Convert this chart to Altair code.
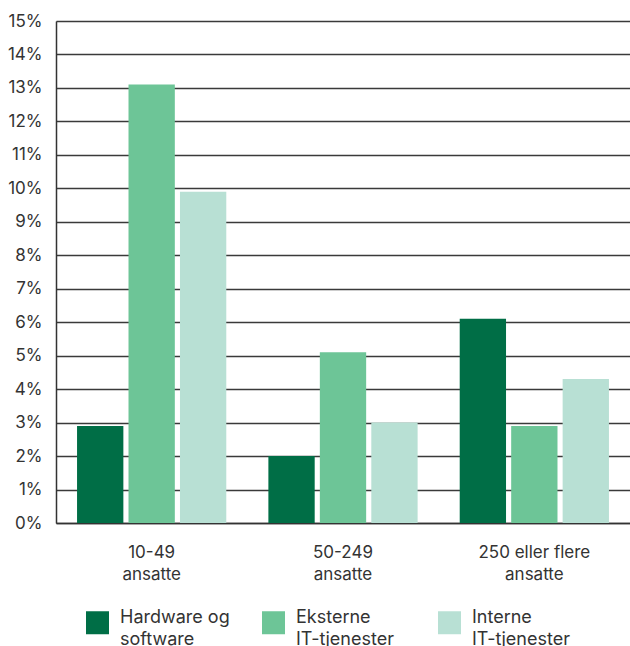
import altair as alt
import pandas as pd

groups = ["10-49|ansatte", "50-249|ansatte", "250 eller flere|ansatte"]
series = ["Hardware og|software", "Eksterne|IT-tjenester", "Interne|IT-tjenester"]
colors = ["#006E46", "#6DC597", "#B8E0D4"]
values = {
    "Hardware og|software": [2.9, 2.0, 6.1],
    "Eksterne|IT-tjenester": [13.1, 5.1, 2.9],
    "Interne|IT-tjenester": [9.9, 3.0, 4.3],
}

rows = []
for s in series:
    for g, v in zip(groups, values[s]):
        rows.append({"group": g, "series": s, "value": v / 100})
df = pd.DataFrame(rows)

FONT = "Inter"
TXT = "#333333"

chart = alt.Chart(df).mark_bar().encode(
    x=alt.X("group:N", sort=groups, title=None,
            scale=alt.Scale(paddingInner=0.22, paddingOuter=0.11),
            axis=alt.Axis(labelAngle=0, ticks=False, labelPadding=21,
                          labelExpr="split(datum.label, '|')",
                          labelFontSize=17, labelColor=TXT, labelFont=FONT,
                          labelLineHeight=22, domainColor="#333333", domainWidth=1.5,
                          grid=False)),
    xOffset=alt.XOffset("series:N", sort=series, scale=alt.Scale(paddingInner=0.1)),
    y=alt.Y("value:Q", title=None,
            scale=alt.Scale(domain=[0, 0.15], nice=False),
            axis=alt.Axis(format=".0%", values=[i / 100 for i in range(16)],
                          ticks=False, labelPadding=14, labelFontSize=17,
                          labelColor=TXT, labelFont=FONT,
                          gridColor="#3a3a3a", gridWidth=1.5,
                          domainColor="#333333", domainWidth=1.5)),
    color=alt.Color("series:N", sort=series,
                    scale=alt.Scale(domain=series, range=colors),
                    legend=alt.Legend(title=None, orient="none", legendX=30, legendY=590,
                                      direction="horizontal", columns=3, gridAlign="all",
                                      symbolType="square", symbolSize=529,
                                      symbolStrokeWidth=0, symbolOpacity=1,
                                      labelExpr="split(datum.label, '|')",
                                      labelFontSize=18, labelFont=FONT, labelColor=TXT,
                                      labelOffset=11, columnPadding=32,
                                      labelBaseline="alphabetic")),
).properties(
    width=574, height=502,
    padding={"left": 56, "top": 21, "right": 0, "bottom": 123},
    autosize=alt.AutoSizeParams(type="none"),
).configure_view(stroke=None).configure(
    background="white",
    style={"guide-label": {"lineHeight": 22}},
)

chart.save("out.html", embed_options={"renderer": "svg", "actions": False})
